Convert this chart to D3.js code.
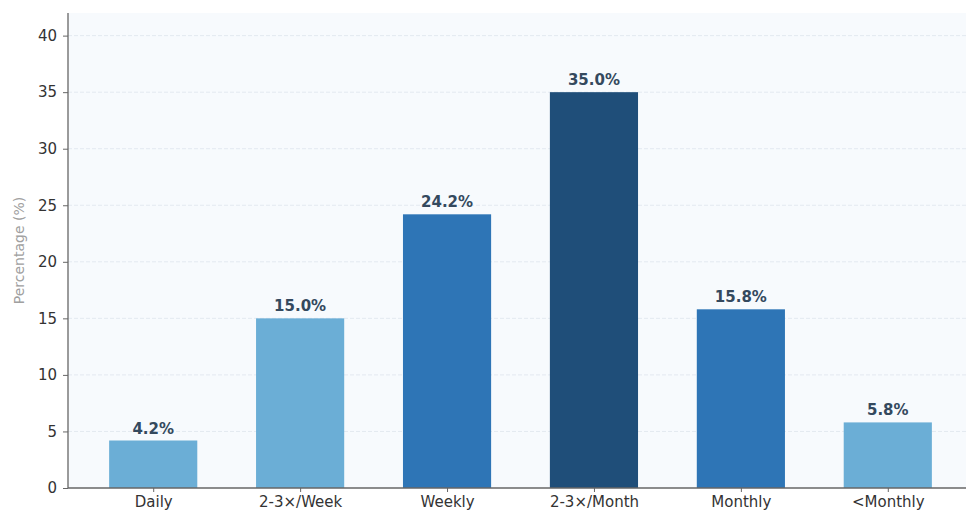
<!DOCTYPE html>
<html>
<head>
<meta charset="utf-8">
<script src="https://cdn.jsdelivr.net/npm/d3@7"></script>
<style>
  body { margin: 0; background: #fff; }
  svg { display: block; font-family: 'DejaVu Sans', sans-serif; }
</style>
</head>
<body>
<svg width="966" height="513"></svg>
<script>
var categories = ['Daily', '2-3\u00d7/Week', 'Weekly', '2-3\u00d7/Month', 'Monthly', '<Monthly'];
var values = [4.2, 15.0, 24.2, 35.0, 15.8, 5.8];
var barColors = ['#6baed6', '#6baed6', '#2e75b6', '#1f4e79', '#2e75b6', '#6baed6'];
var yTicks = [0, 5, 10, 15, 20, 25, 30, 35, 40];

var svg = d3.select('svg');

var plotLeft = 68, plotRight = 973, plotTop = 13, plotBottom = 488;

// linear scale that mimics matplotlib's bar positions with 0.05 margins
var x = d3.scaleLinear()
  .domain([-0.58, categories.length - 1 + 0.58])
  .range([plotLeft, plotRight]);
var barW = x(0.3) - x(-0.3);

var y = d3.scaleLinear()
  .domain([0, 42])
  .range([plotBottom, plotTop]);

svg.append('rect')
  .attr('x', plotLeft)
  .attr('y', plotTop)
  .attr('width', plotRight - plotLeft)
  .attr('height', plotBottom - plotTop)
  .attr('fill', '#f7fafd');

// grid
svg.append('g')
  .selectAll('line')
  .data(yTicks.slice(1))
  .enter().append('line')
  .attr('x1', plotLeft)
  .attr('x2', plotRight)
  .attr('y1', function(d) { return y(d); })
  .attr('y2', function(d) { return y(d); })
  .attr('stroke', '#e3e9f0')
  .attr('stroke-width', 1)
  .attr('stroke-dasharray', '4,2');

// bars
svg.append('g')
  .selectAll('rect')
  .data(values)
  .enter().append('rect')
  .attr('x', function(d, i) { return x(i) - barW / 2; })
  .attr('y', function(d) { return y(d); })
  .attr('width', barW)
  .attr('height', function(d) { return y(0) - y(d); })
  .attr('fill', function(d, i) { return barColors[i]; });

// value labels
svg.append('g')
  .selectAll('text')
  .data(values)
  .enter().append('text')
  .attr('x', function(d, i) { return x(i); })
  .attr('y', function(d) { return y(d) - 7; })
  .attr('text-anchor', 'middle')
  .attr('font-size', '15px')
  .attr('font-weight', 'bold')
  .attr('fill', '#34495e')
  .text(function(d) { return d.toFixed(1) + '%'; });

// axes
var yAxis = d3.axisLeft(y).tickValues(yTicks).tickSize(5).tickPadding(6);
var gy = svg.append('g')
  .attr('transform', 'translate(' + plotLeft + ',0)')
  .call(yAxis);
gy.select('.domain').attr('stroke', '#666').attr('stroke-width', 1.3).attr('d', 'M0,' + plotTop + 'V' + plotBottom);
gy.selectAll('.tick line').attr('stroke', '#666');
gy.selectAll('.tick text').attr('font-size', '15px').attr('fill', '#333').attr('font-family', 'DejaVu Sans, sans-serif');

var xAxis = d3.axisBottom(x)
  .tickValues(d3.range(categories.length))
  .tickFormat(function(i) { return categories[i]; })
  .tickSize(4).tickPadding(4);
var gx = svg.append('g')
  .attr('transform', 'translate(0,' + plotBottom + ')')
  .call(xAxis);
gx.select('.domain').attr('stroke', '#666').attr('stroke-width', 1.3).attr('d', 'M' + plotLeft + ',0H' + plotRight);
gx.selectAll('.tick line').attr('stroke', '#666');
gx.selectAll('.tick text').attr('font-size', '15px').attr('fill', '#333').attr('font-family', 'DejaVu Sans, sans-serif');

svg.append('text')
  .attr('transform', 'translate(24,' + ((plotTop + plotBottom) / 2) + ') rotate(-90)')
  .attr('text-anchor', 'middle')
  .attr('font-size', '14px')
  .attr('fill', '#a0a0a0')
  .text('Percentage (%)');
</script>
</body>
</html>
